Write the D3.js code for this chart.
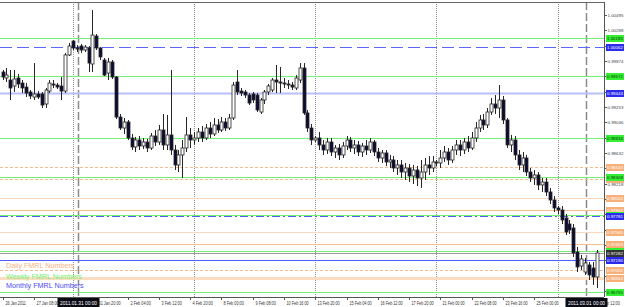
<!DOCTYPE html>
<html>
<head>
<meta charset="utf-8">
<script src="https://cdnjs.cloudflare.com/ajax/libs/d3/7.8.5/d3.min.js"></script>
<style>
    body { margin: 0; background: #fff; }
    svg text { font-family: "Liberation Sans", Arial, sans-serif; }
</style>
</head>
<body>
<div id="chart"></div>
<script>

// H4 candles, [open, high, low, close], split by trading week
const week1 = [
    [0.99725,0.99752,0.99617,0.99657],[0.99644,0.99779,0.99590,0.99684],[0.99617,0.99752,0.99347,0.99509],
    [0.99536,0.99752,0.99455,0.99631],[0.99644,0.99698,0.99509,0.99563],[0.99576,0.99617,0.99441,0.99509],
    [0.99522,0.99576,0.99387,0.99441],[0.99455,0.99482,0.99360,0.99401],[0.99387,0.99846,0.99347,0.99428],
    [0.99428,0.99468,0.99360,0.99387],[0.99428,0.99455,0.99239,0.99279],[0.99293,0.99509,0.99239,0.99482],
    [0.99468,0.99617,0.99441,0.99576],[0.99563,0.99617,0.99509,0.99549],[0.99549,0.99576,0.99495,0.99522],
    [0.99536,0.99657,0.99347,0.99468],[0.99468,0.99982,0.99441,0.99955],[0.99955,1.00116,0.99941,1.00076]
];
const week2 = [
    [1.00143,1.00157,1.00022,1.00049],[1.00049,1.00089,0.99995,1.00036],[1.00076,1.00103,0.99982,1.00022],
    [1.00022,1.00089,0.99995,1.00062],[1.00049,1.00076,0.99725,0.99846],[0.99833,1.00562,0.99725,1.00224],
    [1.00211,1.00238,1.00022,1.00049],[1.00049,1.00062,0.99887,0.99928],[0.99887,0.99914,0.99671,0.99684],
    [0.99711,0.99914,0.99617,0.99860],[0.99860,0.99887,0.99631,0.99657],[0.99657,0.99671,0.99090,0.99117],
    [0.99117,0.99158,0.98942,0.98969],[0.98969,0.99104,0.98888,0.99050],[0.99050,0.99077,0.98807,0.98834],
    [0.98834,0.98888,0.98672,0.98713],[0.98713,0.98848,0.98645,0.98807],[0.98807,0.98861,0.98672,0.98726],
    [0.98726,0.98834,0.98686,0.98780],[0.98780,0.98821,0.98645,0.98699],[0.98699,0.98902,0.98672,0.98861],
    [0.98861,0.98942,0.98726,0.98780],[0.98780,0.99010,0.98740,0.98942],[0.98942,0.99158,0.98672,0.98740],
    [0.98740,0.99145,0.98672,0.98875],[0.98875,0.99752,0.98605,0.98672],[0.98672,0.98740,0.98402,0.98470],
    [0.98470,0.98672,0.98375,0.98605],[0.98605,0.98807,0.98294,0.98699],[0.98699,0.99117,0.98645,0.98875],
    [0.98875,0.98969,0.98699,0.98807]
];
const week3 = [
    [0.98807,0.98915,0.98740,0.98834],[0.98834,0.98969,0.98780,0.98915],[0.98915,0.98996,0.98780,0.98834],
    [0.98834,0.99023,0.98807,0.98969],[0.98969,0.99050,0.98834,0.98888],[0.98888,0.99104,0.98861,0.99010],
    [0.99010,0.99090,0.98902,0.98942],[0.98942,0.99117,0.98915,0.99050],[0.99050,0.99104,0.98929,0.98969],
    [0.98969,0.99158,0.98942,0.99104],[0.99104,0.99590,0.99077,0.99549],[0.99590,0.99752,0.99414,0.99455],
    [0.99468,0.99509,0.99401,0.99441],[0.99455,0.99482,0.99374,0.99414],[0.99414,0.99441,0.99279,0.99306],
    [0.99428,0.99455,0.99306,0.99347],[0.99414,0.99441,0.99185,0.99212],[0.99185,0.99374,0.99158,0.99347],
    [0.99347,0.99482,0.99293,0.99455],[0.99455,0.99563,0.99414,0.99536],[0.99482,0.99644,0.99455,0.99617],
    [0.99617,0.99820,0.99441,0.99590],[0.99590,0.99793,0.99441,0.99576],[0.99576,0.99644,0.99509,0.99563],
    [0.99563,0.99617,0.99495,0.99549],[0.99549,0.99590,0.99482,0.99522],[0.99509,0.99684,0.99482,0.99644],
    [0.99617,0.99846,0.99576,0.99779],[0.99779,0.99846,0.99145,0.99172],[0.99172,0.99212,0.98915,0.98969],
    [0.98969,0.99023,0.98740,0.98807]
];
const week4 = [
    [0.98807,0.98861,0.98780,0.98834],[0.98834,0.98915,0.98672,0.98740],[0.98740,0.98807,0.98605,0.98672],
    [0.98672,0.98834,0.98618,0.98780],[0.98780,0.98834,0.98591,0.98645],[0.98645,0.98740,0.98564,0.98699],
    [0.98699,0.98753,0.98537,0.98605],[0.98605,0.98780,0.98564,0.98726],[0.98726,0.98861,0.98672,0.98807],
    [0.98807,0.98848,0.98645,0.98699],[0.98699,0.98807,0.98618,0.98740],[0.98740,0.98794,0.98591,0.98645],
    [0.98645,0.98767,0.98578,0.98726],[0.98726,0.98807,0.98605,0.98672],[0.98672,0.98834,0.98632,0.98780],
    [0.98780,0.98807,0.98591,0.98645],[0.98645,0.98699,0.98510,0.98564],[0.98564,0.98672,0.98497,0.98632],
    [0.98632,0.98672,0.98456,0.98510],[0.98510,0.98605,0.98429,0.98537],[0.98537,0.98591,0.98375,0.98429],
    [0.98429,0.98537,0.98335,0.98470],[0.98470,0.98537,0.98294,0.98375],[0.98375,0.98497,0.98267,0.98429],
    [0.98429,0.98483,0.98240,0.98321],[0.98321,0.98470,0.98213,0.98402],[0.98402,0.98456,0.98186,0.98294],
    [0.98294,0.98537,0.98159,0.98375],[0.98375,0.98564,0.98267,0.98470],[0.98470,0.98591,0.98335,0.98429],
    [0.98429,0.98591,0.98375,0.98510]
];
const week5 = [
    [0.98510,0.98537,0.98456,0.98497],[0.98497,0.98672,0.98429,0.98564],[0.98564,0.98726,0.98510,0.98645],
    [0.98645,0.98699,0.98470,0.98537],[0.98537,0.98726,0.98497,0.98672],[0.98672,0.98807,0.98605,0.98740],
    [0.98740,0.98807,0.98591,0.98672],[0.98672,0.98834,0.98618,0.98780],[0.98780,0.98861,0.98645,0.98699],
    [0.98699,0.98915,0.98672,0.98834],[0.98834,0.99050,0.98780,0.98969],[0.98969,0.99145,0.98915,0.99077],
    [0.99077,0.99158,0.98942,0.99010],[0.99010,0.99239,0.98969,0.99185],[0.99185,0.99374,0.99145,0.99293],
    [0.99293,0.99414,0.99158,0.99239],[0.99239,0.99549,0.99104,0.99347],[0.99347,0.99401,0.99023,0.99077],
    [0.99077,0.99104,0.98699,0.98740],[0.98740,0.98875,0.98645,0.98807],[0.98807,0.98861,0.98537,0.98605],
    [0.98605,0.98672,0.98402,0.98470],[0.98470,0.98645,0.98375,0.98564],[0.98564,0.98605,0.98321,0.98375],
    [0.98375,0.98429,0.98240,0.98294],[0.98294,0.98402,0.98200,0.98335],[0.98335,0.98375,0.98132,0.98200],
    [0.98200,0.98294,0.98105,0.98240],[0.98240,0.98294,0.98051,0.98105],[0.98105,0.98159,0.97943,0.97997],
    [0.97997,0.98051,0.97835,0.97889]
];
const week6 = [
    [0.97889,0.97916,0.97808,0.97862],[0.97862,0.97916,0.97673,0.97727],[0.97754,0.97808,0.97524,0.97565],
    [0.97673,0.97727,0.97538,0.97592],[0.97619,0.97673,0.97228,0.97282],[0.97295,0.97363,0.97025,0.97093],
    [0.97106,0.97255,0.97052,0.97201],[0.97025,0.97214,0.96985,0.97147],[0.97120,0.97160,0.96917,0.96985],
    [0.97079,0.97160,0.96850,0.96958],[0.96958,0.97322,0.96809,0.97282]
];

// FMRL levels
const dailyLevels = [0.98443, 0.98281, 0.98024, 0.97862, 0.97565, 0.97403, 0.97052, 0.96944];
const weeklyLevels = [1.00185, 0.99672, 0.98834, 0.98308, 0.97794, 0.97309, 0.96755];
const monthlyLevels = [1.00062, 0.99443, 0.97781, 0.97190];

// price scale tick labels
const priceTicks = [1.00495, 1.00288, 1.00081, 0.99874, 0.99667, 0.99460, 0.99253, 0.99046, 0.98839,
    0.98632, 0.98425, 0.98218, 0.98011, 0.97804, 0.97597, 0.97390, 0.97183, 0.96976, 0.96769];

// time labels (bar index, text); the ones under the date boxes are not shown
const timeIndex = [0, 8, 24, 32, 40, 48, 56, 64, 72, 80, 88, 96, 104, 112, 120, 128, 136, 152];
const timeText = ["26 Jan 2011", "27 Jan 08:00", "31 Jan 20:00", "2 Feb 04:00", "3 Feb 12:00",
    "4 Feb 20:00", "8 Feb 00:00", "9 Feb 08:00", "10 Feb 16:00", "13 Feb 20:00", "15 Feb 04:00",
    "16 Feb 12:00", "17 Feb 20:00", "21 Feb 00:00", "22 Feb 08:00", "23 Feb 16:00", "25 Feb 00:00",
    "1 Mar 12:00"];

// sunday bars (period separators) and marked dates
const weekStarts = [18, 49, 80, 111, 142];
const markIndex = [19, 149];
const markText = ["2011.01.31 00:00", "2011.03.01 00:00"];

const legendText = ["Daily FMRL Numbers", "Weekly FMRL Numbers", "Monthly FMRL Numbers"];


class CandleChart {
    constructor(parentElement, candles) {
        this.parentElement = parentElement;
        this.candles = candles;
        this.initVis();
    }

    initVis() {
        let vis = this;
        vis.width = 625;
        vis.height = 307;
        vis.plot = {left: 0, right: 604, top: 2, bottom: 297};

        vis.svg = d3.select("#" + vis.parentElement).append("svg")
            .attr("width", vis.width)
            .attr("height", vis.height);

        vis.x = d3.scaleLinear().domain([0, 152]).range([2.5, 596.8]);
        vis.y = d3.scaleLinear().domain([0.96701, 1.00670]).range([296, 2]);

        vis.drawGrid();
        vis.drawLevels();
        vis.drawCandles();
        vis.drawAxes();
    }

    cx(i) {
        return Math.round(this.x(i)) + 0.5;
    }

    drawGrid() {
        let vis = this;
        let g = vis.svg.append("g");

        g.selectAll(".sep").data(weekStarts).join("line")
            .attr("x1", d => vis.cx(d)).attr("x2", d => vis.cx(d))
            .attr("y1", vis.plot.top).attr("y2", vis.plot.bottom)
            .attr("stroke", "#8c8c8c")
            .attr("stroke-dasharray", "1,1");

        g.selectAll(".mark").data(markIndex).join("line")
            .attr("x1", d => vis.cx(d) + 1).attr("x2", d => vis.cx(d) + 1)
            .attr("y1", vis.plot.top).attr("y2", vis.plot.bottom)
            .attr("stroke", "#8a8a8a")
            .attr("stroke-width", 1.5)
            .attr("stroke-dasharray", "8,3");
    }

    drawLevels() {
        let vis = this;
        let g = vis.svg.append("g");
        let hline = (p) => g.append("line")
            .attr("x1", vis.plot.left).attr("x2", vis.plot.right)
            .attr("y1", Math.round(vis.y(p)) + 0.5).attr("y2", Math.round(vis.y(p)) + 0.5);

        // daily (orange)
        let dailyStyle = ["dash", "dash", "light", "solid", "light", "solid", "dash", "thick"];
        dailyLevels.forEach((p, i) => {
            let s = dailyStyle[i];
            let l = hline(p).attr("stroke", s === "light" ? "#fad7ba" : "#f6bb8c");
            if (s === "dash") l.attr("stroke-dasharray", "3,2");
            if (s === "thick") l.attr("stroke", "#fcdcc2").attr("stroke-width", 3);
        });

        // weekly (green)
        weeklyLevels.forEach(p => hline(p).attr("stroke", "#72f272"));

        // monthly (blue)
        let monthlyStyle = ["longdash", "wide", "dashdot", "solid"];
        monthlyLevels.forEach((p, i) => {
            let s = monthlyStyle[i];
            let l = hline(p).attr("stroke", "#4f5cff");
            if (s === "longdash") l.attr("stroke", "#5a66ff").attr("stroke-dasharray", "12,5");
            if (s === "wide") l.attr("stroke", "#b9bff8").attr("stroke-width", 2);
            if (s === "dashdot") l.attr("stroke-dasharray", "8,3,2,3");
        });

        // bid line at last close
        let last = vis.candles[vis.candles.length - 1][3];
        hline(last).attr("stroke", "#9a9a9a");
    }

    drawCandles() {
        let vis = this;
        let g = vis.svg.append("g");

        g.selectAll(".wick").data(vis.candles).join("line")
            .attr("x1", (d, i) => vis.cx(i)).attr("x2", (d, i) => vis.cx(i))
            .attr("y1", d => vis.y(d[1])).attr("y2", d => vis.y(d[2]))
            .attr("stroke", "#262626");

        g.selectAll(".body").data(vis.candles).join("rect")
            .attr("x", (d, i) => vis.cx(i) - 1.5)
            .attr("width", 3)
            .attr("y", d => vis.y(Math.max(d[0], d[3])))
            .attr("height", d => Math.max(1, Math.abs(vis.y(d[0]) - vis.y(d[3]))))
            .attr("fill", d => d[3] >= d[0] ? "#ffffff" : "#0b0b33")
            .attr("stroke", "#262626")
            .attr("stroke-width", 0.8);
    }

    drawAxes() {
        let vis = this;
        let g = vis.svg.append("g");

        // frame
        g.append("line").attr("x1", 0).attr("x2", vis.plot.right).attr("y1", 2.5).attr("y2", 2.5).attr("stroke", "#666");
        g.append("line").attr("x1", vis.plot.right + 0.5).attr("x2", vis.plot.right + 0.5)
            .attr("y1", 2).attr("y2", vis.plot.bottom).attr("stroke", "#555");
        g.append("line").attr("x1", 0).attr("x2", vis.plot.right).attr("y1", vis.plot.bottom + 0.5)
            .attr("y2", vis.plot.bottom + 0.5).attr("stroke", "#555");

        // price ticks
        let ticks = g.selectAll(".ptick").data(priceTicks).join("g")
            .attr("transform", d => `translate(${vis.plot.right}, ${Math.round(vis.y(d)) + 0.5})`);
        ticks.append("line").attr("x1", 1).attr("x2", 3).attr("stroke", "#555");
        ticks.append("text").attr("x", 3.5).attr("y", 1.8)
            .attr("font-size", 4.4).attr("fill", "#444")
            .text(d => d.toFixed(5));

        // level price boxes
        let box = (p, bg, fg) => {
            let yy = Math.round(vis.y(p));
            g.append("rect").attr("x", vis.plot.right + 2).attr("y", yy - 3)
                .attr("width", 18).attr("height", 7).attr("fill", bg);
            g.append("text").attr("x", vis.plot.right + 3).attr("y", yy + 2.2)
                .attr("font-size", 4.4).attr("fill", fg).text(p.toFixed(5));
        };
        dailyLevels.forEach(p => box(p, "#f7b07a", "#fff"));
        weeklyLevels.forEach(p => box(p, "#33ee33", "#0a3a0a"));
        monthlyLevels.forEach(p => box(p, "#2b2bf0", "#fff"));
        box(vis.candles[vis.candles.length - 1][3], "#333", "#fff");

        // time labels
        let tl = g.selectAll(".ttick").data(timeIndex).join("g")
            .attr("transform", d => `translate(${vis.cx(d)}, ${vis.plot.bottom})`);
        tl.append("line").attr("y1", 0).attr("y2", 3).attr("stroke", "#555");
        tl.append("text").attr("x", 2).attr("y", 7.5)
            .attr("font-size", 5.2).attr("fill", "#333")
            .attr("textLength", (d, i) => timeText[i].length * 1.85)
            .attr("lengthAdjust", "spacingAndGlyphs")
            .text((d, i) => timeText[i]);

        // marked date boxes
        markIndex.forEach((m, i) => {
            let mx = vis.cx(m) + 1;
            g.append("rect").attr("x", mx - 21).attr("y", vis.plot.bottom + 1)
                .attr("width", 42).attr("height", 9).attr("fill", "#0a0a14");
            g.append("text").attr("x", mx).attr("y", vis.plot.bottom + 7.5)
                .attr("text-anchor", "middle").attr("font-size", 5.2).attr("fill", "#fff")
                .attr("textLength", 37).attr("lengthAdjust", "spacingAndGlyphs")
                .text(markText[i]);
        });

        // legend
        let legendColor = ["#f5b27f", "#6ef06e", "#4a4af5"];
        let legendY = [268, 279, 288];
        legendText.forEach((t, i) => {
            g.append("text").attr("x", 6).attr("y", legendY[i])
                .attr("font-size", 7.2).attr("fill", legendColor[i]).text(t);
        });
    }
}

new CandleChart("chart", [].concat(week1, week2, week3, week4, week5, week6));

</script>
</body>
</html>
